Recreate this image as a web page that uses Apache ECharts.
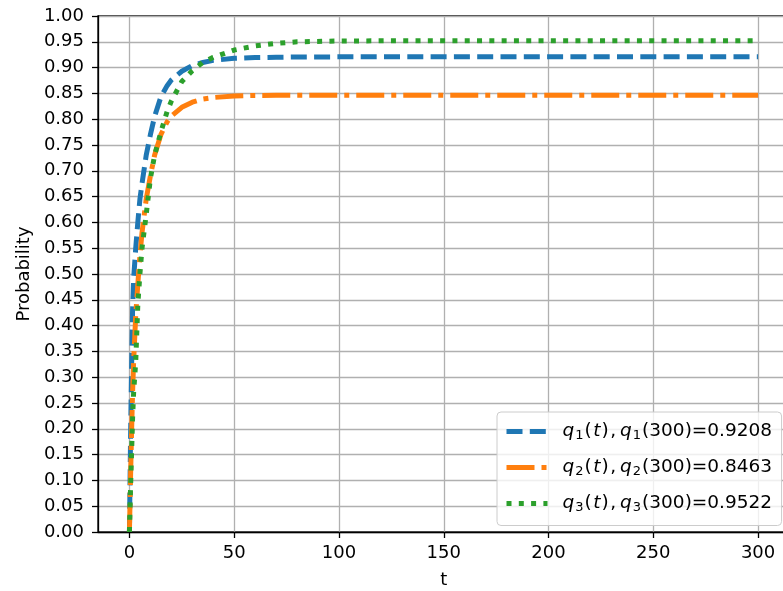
<!DOCTYPE html>
<html>
<head>
<meta charset="utf-8">
<title>Probability</title>
<script src="https://cdn.jsdelivr.net/npm/echarts@6/dist/echarts.min.js"></script>
<style>
  html, body { margin: 0; padding: 0; background: #fff; }
  #main { width: 783px; height: 591px; }
</style>
</head>
<body>
<div id="main"></div>
<script type="text/javascript">
// values
var tVals = [0, 0.5, 1, 1.5, 2, 3, 4, 5, 6, 8, 10, 12, 15, 18, 20, 25, 30, 35, 40, 50, 60, 70, 80, 100, 125, 150, 200, 250, 300];
var q1 = [0, 0.17, 0.31, 0.43, 0.49, 0.55, 0.60, 0.645, 0.675, 0.73, 0.77, 0.805, 0.843, 0.865, 0.876, 0.893, 0.904, 0.910, 0.914, 0.918, 0.9195, 0.920, 0.9205, 0.9208, 0.9208, 0.9208, 0.9208, 0.9208, 0.9208];
var q2 = [0, 0.10, 0.19, 0.27, 0.33, 0.42, 0.48, 0.535, 0.58, 0.645, 0.69, 0.73, 0.77, 0.795, 0.806, 0.823, 0.833, 0.839, 0.842, 0.845, 0.846, 0.8462, 0.8463, 0.8463, 0.8463, 0.8463, 0.8463, 0.8463, 0.8463];
var q3 = [0, 0.08, 0.15, 0.22, 0.27, 0.33, 0.44, 0.50, 0.55, 0.615, 0.685, 0.73, 0.775, 0.815, 0.835, 0.873, 0.894, 0.910, 0.920, 0.934, 0.942, 0.947, 0.950, 0.9515, 0.952, 0.9522, 0.9522, 0.9522, 0.9522];
var finals = ['0.9208', '0.8463', '0.9522'];
var xTicks = [0, 50, 100, 150, 200, 250, 300];

var colors = ['#1f77b4', '#ff7f0e', '#2ca02c'];
var dashes = [[16, 7.3], [28, 7, 5, 7], [5, 7.3]];
var names = ['q1', 'q2', 'q3'];
var allQ = [q1, q2, q3];

function pairs(ys) {
    return tVals.map(function (t, i) { return [t, ys[i]]; });
}

var series = [];
for (var k = 0; k < 3; k++) {
    series.push({
        name: names[k],
        type: 'line',
        data: pairs(allQ[k]),
        symbol: 'none',
        smooth: false,
        lineStyle: { color: colors[k], width: 5, type: dashes[k], cap: 'butt' },
        itemStyle: { color: colors[k] },
        emphasis: { disabled: true }
    });
}

var FONT = 'DejaVu Sans';
var myChart = echarts.init(document.getElementById('main'));
myChart.setOption({
    animation: false,
    textStyle: { fontFamily: FONT },
    grid: {
        left: 98, top: 16, width: 691.5, height: 516,
        outerBoundsMode: 'none',
        show: true, borderColor: '#000', borderWidth: 1.3, backgroundColor: 'transparent'
    },
    legend: {
        orient: 'vertical',
        left: 497, top: 412,
        padding: [10, 8, 11, 7],
        itemGap: 15.5,
        itemWidth: 41, itemHeight: 22,
        backgroundColor: 'rgba(255,255,255,0.8)',
        borderColor: '#cccccc', borderWidth: 1, borderRadius: 4,
        lineStyle: { width: 5 },
        itemStyle: { opacity: 0, color: 'rgba(0,0,0,0)', borderWidth: 0 },
        data: names,
        formatter: function (name) {
            var k = names.indexOf(name);
            var n = String(k + 1);
            return '{i|q}{s|' + n + '}{n|(}{i|t}{n|)}{c|,}{i|q}{s|' + n + '}{n|(300)=' + finals[k] + '}';
        },
        textStyle: {
            padding: [0, 0, 0, 10],
            rich: {
                i: { fontFamily: FONT, fontStyle: 'italic', fontSize: 18.5, lineHeight: 22, color: '#000', padding: [0, 1, 0, 0] },
                n: { fontFamily: FONT, fontSize: 18.5, lineHeight: 22, color: '#000', padding: [0, 1.5, 0, 0] },
                c: { fontFamily: FONT, fontSize: 18.5, lineHeight: 22, color: '#000', padding: [0, 4, 0, 0] },
                s: { fontFamily: FONT, fontSize: 13, lineHeight: 13, verticalAlign: 'bottom', color: '#000', padding: [0, 1, 0, 0] }
            }
        }
    },
    xAxis: {
        type: 'value',
        min: -15, max: 315,
        name: 't', nameLocation: 'middle', nameGap: 39,
        nameTextStyle: { fontFamily: FONT, fontSize: 18, color: '#000' },
        axisLine: { onZero: false, lineStyle: { color: '#000', width: 1.3 } },
        axisTick: { show: true, length: 6, customValues: xTicks, lineStyle: { color: '#000', width: 1.3 } },
        axisLabel: { customValues: xTicks, margin: 12, fontFamily: FONT, fontSize: 18, color: '#000' },
        splitLine: { show: true, lineStyle: { color: '#b0b0b0', width: 1.3 } }
    },
    yAxis: {
        type: 'value',
        min: 0, max: 1, interval: 0.05,
        name: 'Probability', nameLocation: 'middle', nameGap: 65,
        nameTextStyle: { fontFamily: FONT, fontSize: 18, color: '#000' },
        axisLine: { show: true, onZero: false, lineStyle: { color: '#000', width: 1.3 } },
        axisTick: { show: true, length: 6, lineStyle: { color: '#000', width: 1.3 } },
        axisLabel: {
            margin: 14, fontFamily: FONT, fontSize: 18, color: '#000',
            formatter: function (v) { return v.toFixed(2); }
        },
        splitLine: { show: true, lineStyle: { color: '#b0b0b0', width: 1.3 } }
    },
    series: series
});
</script>
</body>
</html>
